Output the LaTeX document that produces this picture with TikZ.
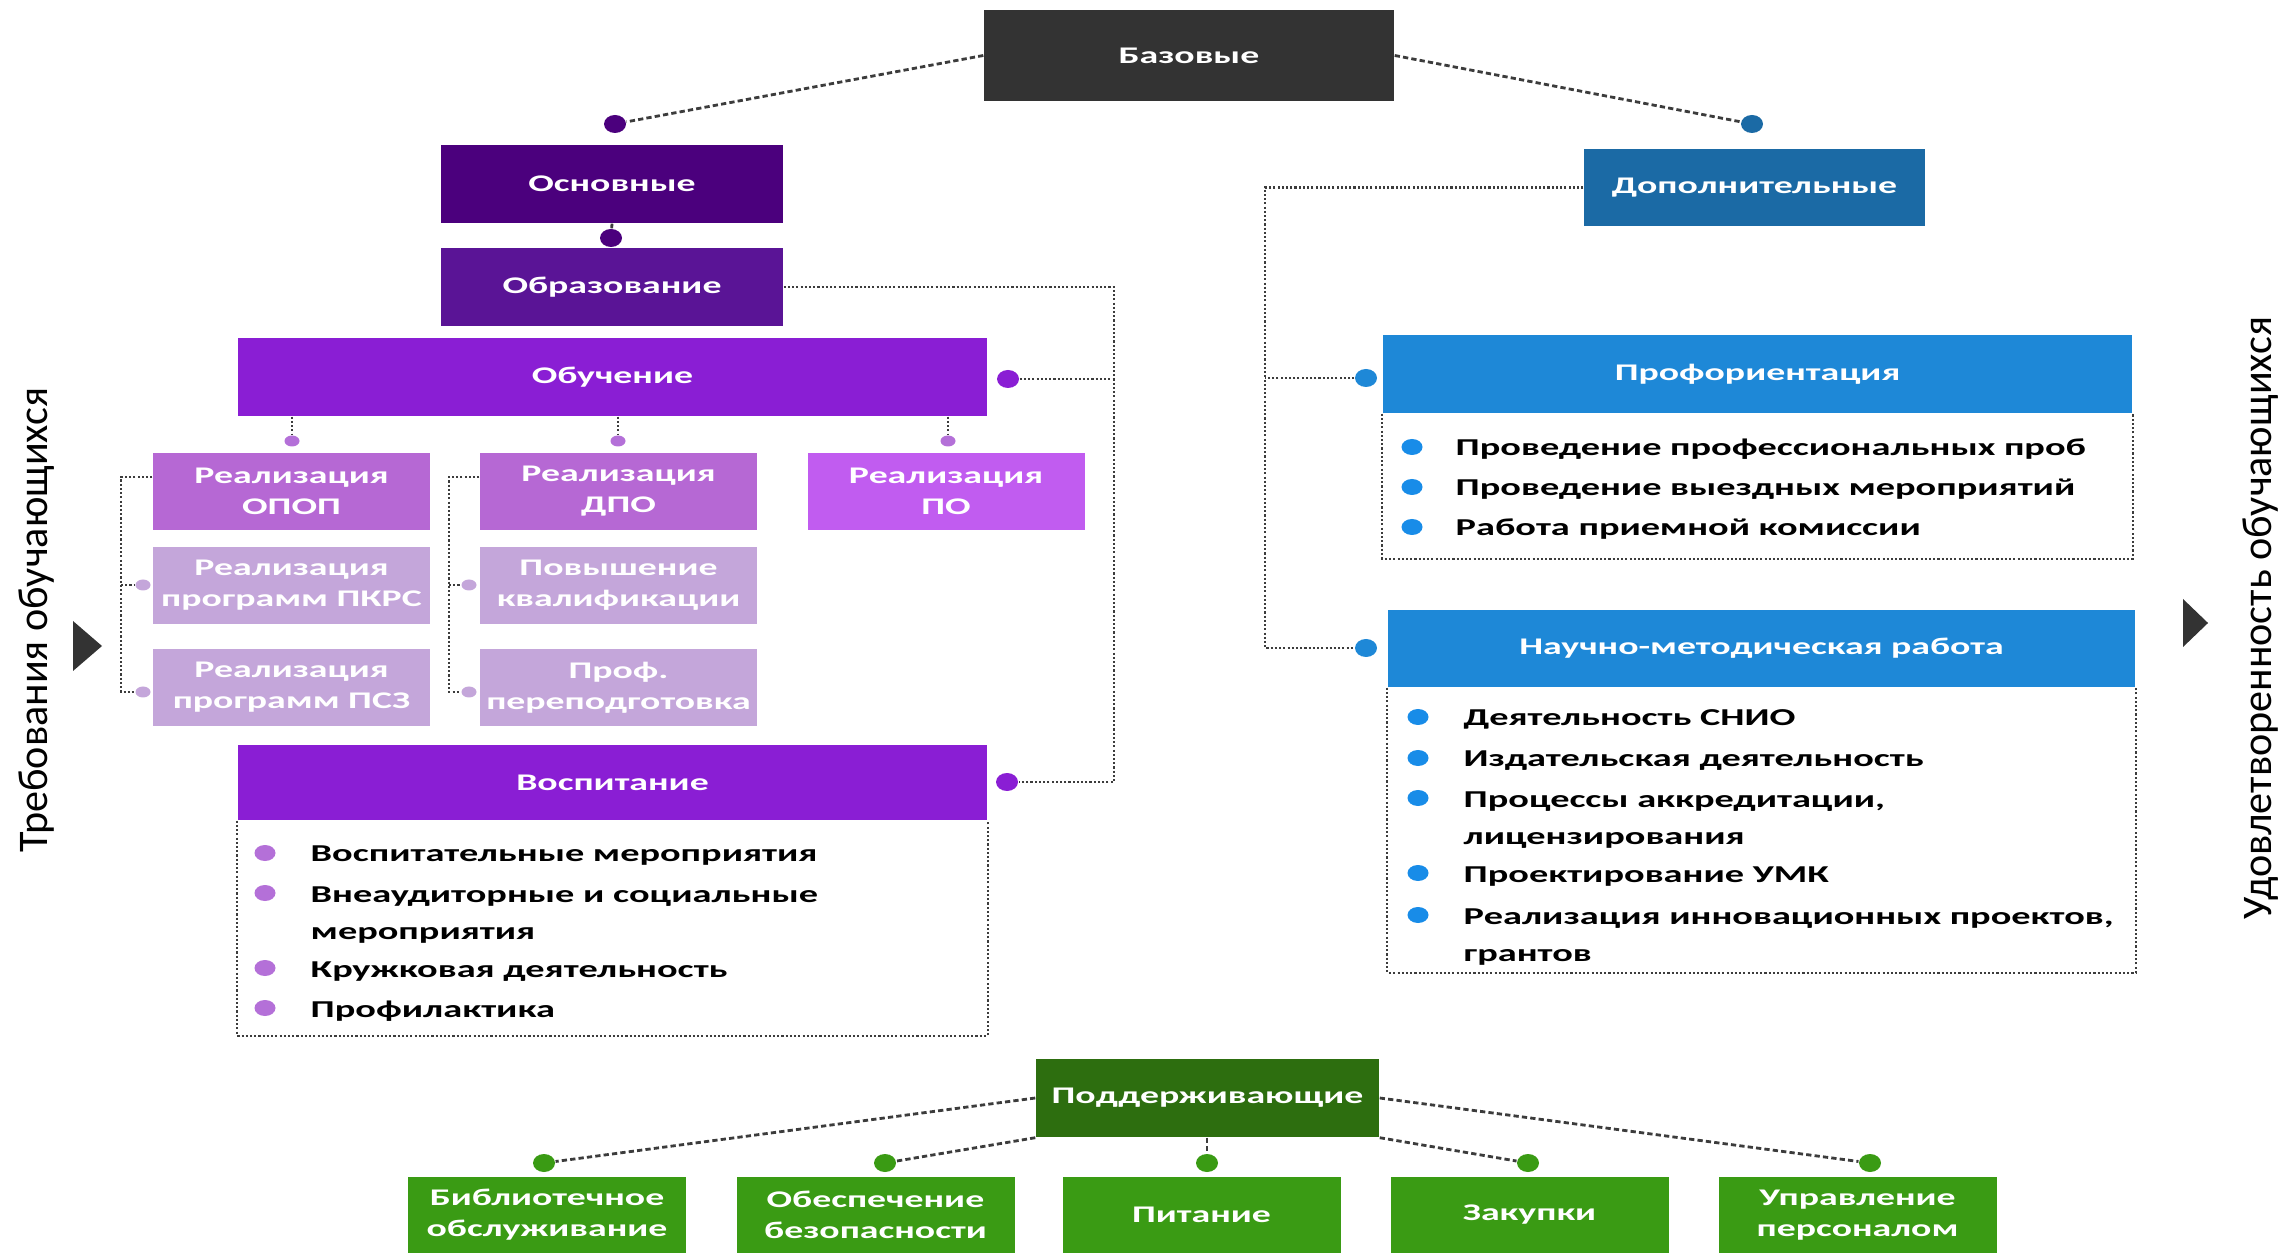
\documentclass[tikz,border=0pt]{standalone}
\usepackage{fontspec}
\setmainfont{Carlito}[FakeStretch = 1.58]
\newfontfamily\sidefont{Carlito}
\usetikzlibrary{shapes.geometric}

\definecolor{bazgray}{RGB}{51,51,51}
\definecolor{osnpurple}{RGB}{75,0,125}
\definecolor{obrpurple}{RGB}{90,20,150}
\definecolor{obupurple}{RGB}{138,30,212}
\definecolor{realpurple}{RGB}{182,104,212}
\definecolor{popurple}{RGB}{193,92,240}
\definecolor{subpurple}{RGB}{196,166,218}
\definecolor{bulpurple}{RGB}{180,112,216}
\definecolor{dopblue}{RGB}{27,106,165}
\definecolor{profblue}{RGB}{30,136,215}
\definecolor{bulblue}{RGB}{24,140,232}
\definecolor{podgreen}{RGB}{45,110,15}
\definecolor{boxgreen}{RGB}{58,155,20}
\definecolor{linegray}{RGB}{60,60,60}

\tikzset{
	block/.style = {fill = #1, text = white, minimum height = 0.78cm, inner sep = 0pt, align = center, font = \bfseries\fontsize{6.8}{8.8}\selectfont},
	joint/.style = {ellipse, fill = #1, minimum width = 0.22cm, minimum height = 0.18cm, inner sep = 0pt},
	minijoint/.style = {ellipse, fill = #1, minimum width = 0.15cm, minimum height = 0.11cm, inner sep = 0pt},
	bulletdot/.style = {ellipse, fill = #1, minimum width = 0.21cm, minimum height = 0.16cm, inner sep = 0pt},
	listitem/.style = {anchor = base west, inner sep = 0pt, align = left, font = \bfseries\fontsize{6.9}{10.4}\selectfont},
	sidetext/.style = {rotate = 90, inner sep = 0pt, font = \sidefont\fontsize{12}{14}\selectfont},
	slantline/.style = {draw = linegray, line width = 0.8pt, dash pattern = on 1.5pt off 0.9pt},
	bracketline/.style = {draw = linegray, line width = 0.65pt, dash pattern = on 0.6pt off 0.6pt},
	listframe/.style = {draw = linegray, line width = 0.5pt, dash pattern = on 0.6pt off 0.6pt}
}

\begin{document}
\begin{tikzpicture}
	\useasboundingbox (0, 0) rectangle (22.9, -12.54);

	% top
	\node[block = bazgray, minimum width = 4.10cm, minimum height = 0.91cm] (baz) at (11.89, -0.555) {Базовые};

	% basic branch
	\node[joint = osnpurple] (osndot) at (6.15, -1.24) {};
	\node[block = osnpurple, minimum width = 3.42cm] (osn) at (6.12, -1.84) {Основные};
	\node[joint = osnpurple] (obrdot) at (6.11, -2.38) {};
	\node[block = obrpurple, minimum width = 3.42cm] (obr) at (6.12, -2.87) {Образование};
	\node[block = obupurple, minimum width = 7.49cm] (obu) at (6.125, -3.77) {Обучение};
	\node[joint = obupurple] (obudot) at (10.08, -3.79) {};

	\node[minijoint = bulpurple] (opopdot) at (2.92, -4.41) {};
	\node[minijoint = bulpurple] (dpodot) at (6.18, -4.41) {};
	\node[minijoint = bulpurple] (podot) at (9.48, -4.41) {};
	\node[block = realpurple, minimum width = 2.77cm, minimum height = 0.77cm] (opop) at (2.915, -4.915) {Реализация\\ОПОП};
	\node[block = realpurple, minimum width = 2.77cm, minimum height = 0.77cm] (dpo) at (6.185, -4.915) {Реализация\\ДПО};
	\node[block = popurple, minimum width = 2.77cm, minimum height = 0.77cm] (po) at (9.46, -4.915) {Реализация\\ПО};
	\node[block = subpurple, minimum width = 2.77cm, minimum height = 0.77cm] (pkrs) at (2.915, -5.855) {Реализация\\программ ПКРС};
	\node[block = subpurple, minimum width = 2.77cm, minimum height = 0.77cm] (psz) at (2.915, -6.875) {Реализация\\программ ПСЗ};
	\node[block = subpurple, minimum width = 2.77cm, minimum height = 0.77cm] (pk) at (6.185, -5.855) {Повышение\\квалификации};
	\node[block = subpurple, minimum width = 2.77cm, minimum height = 0.77cm] (pp) at (6.185, -6.875) {Проф.\\переподготовка};
	\node[minijoint = subpurple] (pkrsdot) at (1.43, -5.85) {};
	\node[minijoint = subpurple] (pszdot) at (1.43, -6.92) {};
	\node[minijoint = subpurple] (pkdot) at (4.69, -5.85) {};
	\node[minijoint = subpurple] (ppdot) at (4.69, -6.92) {};

	\node[block = obupurple, minimum width = 7.49cm, minimum height = 0.75cm] (vos) at (6.125, -7.825) {Воспитание};
	\node[joint = obupurple] (vosdot) at (10.07, -7.82) {};

	\draw[listframe] (vos.south west) -- ++(0, -2.15) -| (vos.south east);
	\node[bulletdot = bulpurple] (vb1) at (2.65, -8.53) {};
	\node[bulletdot = bulpurple] (vb2) at (2.65, -8.93) {};
	\node[bulletdot = bulpurple] (vb3) at (2.65, -9.68) {};
	\node[bulletdot = bulpurple] (vb4) at (2.65, -10.08) {};
	\node[listitem] (vt1) at (3.10, -8.62) {Воспитательные мероприятия};
	\node[listitem] (vt2) at (3.10, -9.39) {Внеаудиторные и социальные\\мероприятия};
	\node[listitem] (vt3) at (3.10, -9.77) {Кружковая деятельность};
	\node[listitem] (vt4) at (3.10, -10.17) {Профилактика};

	% additional branch
	\node[joint = dopblue] (dopdot) at (17.52, -1.24) {};
	\node[block = dopblue, minimum width = 3.41cm, minimum height = 0.77cm] (dop) at (17.545, -1.875) {Дополнительные};
	\node[joint = profblue] (profdot) at (13.66, -3.78) {};
	\node[block = profblue, minimum width = 7.49cm] (prof) at (17.575, -3.74) {Профориентация};
	\node[joint = profblue] (nauchdot) at (13.66, -6.48) {};
	\node[block = profblue, minimum width = 7.47cm, minimum height = 0.77cm] (nauch) at (17.615, -6.485) {Научно-методическая работа};

	\draw[listframe] (prof.south west) -- ++(0, -1.45) -| (prof.south east);
	\node[bulletdot = bulblue] (pb1) at (14.12, -4.47) {};
	\node[bulletdot = bulblue] (pb2) at (14.12, -4.87) {};
	\node[bulletdot = bulblue] (pb3) at (14.12, -5.27) {};
	\node[listitem] (pt1) at (14.55, -4.56) {Проведение профессиональных проб};
	\node[listitem] (pt2) at (14.55, -4.96) {Проведение выездных мероприятий};
	\node[listitem] (pt3) at (14.55, -5.36) {Работа приемной комиссии};

	\draw[listframe] (nauch.south west) -- ++(0, -2.85) -| (nauch.south east);
	\node[bulletdot = bulblue] (nb1) at (14.18, -7.17) {};
	\node[bulletdot = bulblue] (nb2) at (14.18, -7.58) {};
	\node[bulletdot = bulblue] (nb3) at (14.18, -7.98) {};
	\node[bulletdot = bulblue] (nb4) at (14.18, -8.73) {};
	\node[bulletdot = bulblue] (nb5) at (14.18, -9.15) {};
	\node[listitem] (nt1) at (14.63, -7.26) {Деятельность СНИО};
	\node[listitem] (nt2) at (14.63, -7.67) {Издательская деятельность};
	\node[listitem] (nt3) at (14.63, -8.44) {Процессы аккредитации,\\лицензирования};
	\node[listitem] (nt4) at (14.63, -8.82) {Проектирование УМК};
	\node[listitem] (nt5) at (14.63, -9.61) {Реализация инновационных проектов,\\грантов};

	% supporting branch
	\node[block = podgreen, minimum width = 3.43cm] (pod) at (12.075, -10.98) {Поддерживающие};
	\node[joint = boxgreen] (bibdot) at (5.44, -11.63) {};
	\node[joint = boxgreen] (bezdot) at (8.85, -11.63) {};
	\node[joint = boxgreen] (pitdot) at (12.07, -11.63) {};
	\node[joint = boxgreen] (zakdot) at (15.28, -11.63) {};
	\node[joint = boxgreen] (updot) at (18.70, -11.63) {};
	\node[block = boxgreen, minimum width = 2.78cm, minimum height = 0.76cm] (bib) at (5.47, -12.15) {Библиотечное\\обслуживание};
	\node[block = boxgreen, minimum width = 2.78cm, minimum height = 0.76cm] (bez) at (8.755, -12.15) {Обеспечение\\безопасности};
	\node[block = boxgreen, minimum width = 2.78cm, minimum height = 0.76cm] (pit) at (12.015, -12.15) {Питание};
	\node[block = boxgreen, minimum width = 2.78cm, minimum height = 0.76cm] (zak) at (15.295, -12.15) {Закупки};
	\node[block = boxgreen, minimum width = 2.78cm, minimum height = 0.76cm] (up) at (18.575, -12.15) {Управление\\персоналом};

	% sides
	\node[sidetext] (req) at (0.37, -6.20) {Требования обучающихся};
	\node[sidetext] (sat) at (22.61, -6.18) {Удовлетворенность обучающихся};
	\fill[bazgray] (0.73, -6.21) -- (1.02, -6.46) -- (0.73, -6.71) -- cycle;
	\fill[bazgray] (21.83, -5.99) -- (22.08, -6.23) -- (21.83, -6.47) -- cycle;

	% connectors
	\coordinate (rrail) at (11.14, 0);
	\coordinate (lrail) at (12.65, 0);
	\coordinate (opoprail) at (1.21, -4.77);
	\coordinate (dporail) at (4.49, -4.77);
	\draw[slantline] (baz.west) -- (osndot);
	\draw[slantline] (baz.east) -- (dopdot);
	\draw[slantline] (osn.south) -- (obrdot);
	\draw[bracketline] (obr.east) -- (obr.east -| rrail) |- (vosdot);
	\draw[bracketline] (obudot) -- (obudot -| rrail);
	\draw[bracketline] (obu.south -| opopdot) -- (opopdot);
	\draw[bracketline] (obu.south -| dpodot) -- (dpodot);
	\draw[bracketline] (obu.south -| podot) -- (podot);
	\draw[bracketline] (opop.west |- opoprail) -- (opoprail) |- (pszdot);
	\draw[bracketline] (opoprail |- pkrsdot) -- (pkrsdot);
	\draw[bracketline] (dpo.west |- dporail) -- (dporail) |- (ppdot);
	\draw[bracketline] (dporail |- pkdot) -- (pkdot);
	\draw[bracketline] (dop.west) -- (dop.west -| lrail) |- (nauchdot);
	\draw[bracketline] (profdot) -- (profdot -| lrail);
	\draw[slantline] (pod.west) -- (bibdot);
	\draw[slantline] (pod.south west) -- (bezdot);
	\draw[slantline] (pod.south -| pitdot) -- (pitdot);
	\draw[slantline] (pod.south east) -- (zakdot);
	\draw[slantline] (pod.east) -- (updot);
\end{tikzpicture}
\end{document}
